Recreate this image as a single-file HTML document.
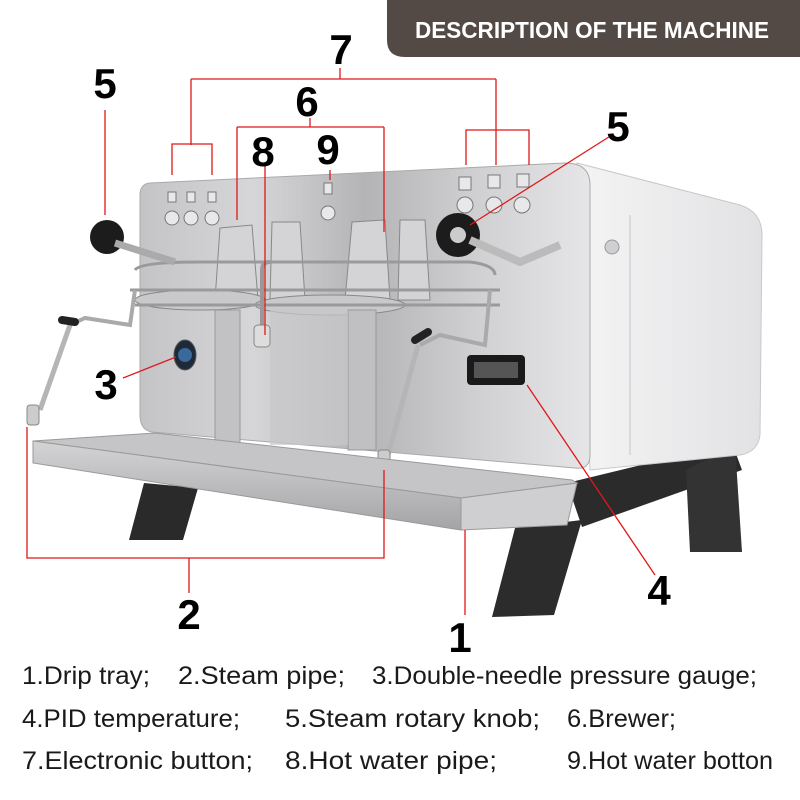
<!DOCTYPE html>
<html><head><meta charset="utf-8"><style>
html,body{margin:0;padding:0;background:#fff}
svg{display:block}
</style></head><body>
<svg width="800" height="800" viewBox="0 0 800 800" xmlns="http://www.w3.org/2000/svg" font-family="Liberation Sans, sans-serif">
<defs>
<linearGradient id="pan" x1="0" y1="0" x2="1" y2="0">
<stop offset="0" stop-color="#c4c4c6"/><stop offset="0.25" stop-color="#d6d6d8"/><stop offset="0.5" stop-color="#b4b4b7"/><stop offset="0.75" stop-color="#d0d0d2"/><stop offset="1" stop-color="#e6e6e8"/></linearGradient>
<linearGradient id="side" x1="0" y1="0" x2="1" y2="0">
<stop offset="0" stop-color="#f4f4f5"/><stop offset="1" stop-color="#e2e2e4"/></linearGradient>
<linearGradient id="tray" x1="0" y1="0" x2="0" y2="1">
<stop offset="0" stop-color="#d4d4d6"/><stop offset="1" stop-color="#a4a4a7"/></linearGradient>
</defs>
<!-- header -->
<path d="M387 0 H800 V57 H405 Q387 57 387 40 Z" fill="#544a45"/>
<text x="592" y="38" font-size="23" font-weight="bold" fill="#fff" text-anchor="middle" textLength="354" lengthAdjust="spacingAndGlyphs">DESCRIPTION OF THE MACHINE</text>

<!-- legs -->
<polygon points="567,483 732,443 742,470 686,490 582,527" fill="#2b2b2b"/>
<polygon points="686,470 735,445 742,552 690,552" fill="#333"/>
<polygon points="144,483 198,488 183,540 129,540" fill="#2a2a2a"/>
<polygon points="515,528 582,520 554,615 492,617" fill="#2c2c2c"/>

<!-- side body -->
<path d="M577 163 L740 205 Q762 212 762 235 L760 435 Q758 452 740 455 L590 470 Z" fill="url(#side)" stroke="#c8c8ca"/>
<line x1="630" y1="215" x2="630" y2="455" stroke="#c4c4c6"/>
<circle cx="612" cy="247" r="7" fill="#cfcfd1" stroke="#999"/>
<!-- front panel -->
<path d="M150 183 L565 163 Q590 163 590 185 L590 455 Q590 470 575 468 L152 432 Q140 430 140 415 L140 195 Q140 184 150 183 Z" fill="url(#pan)" stroke="#aaa"/>
<!-- buttons -->
<g fill="#e8e8ea" stroke="#777">
<circle cx="172" cy="218" r="7"/><circle cx="191" cy="218" r="7"/><circle cx="212" cy="218" r="7"/>
<circle cx="328" cy="213" r="7"/>
<circle cx="465" cy="205" r="8"/><circle cx="494" cy="205" r="8"/><circle cx="522" cy="205" r="8"/>
<rect x="168" y="192" width="8" height="10"/><rect x="187" y="192" width="8" height="10"/><rect x="208" y="192" width="8" height="10"/>
<rect x="324" y="183" width="8" height="11"/>
<rect x="459" y="177" width="12" height="13"/><rect x="488" y="175" width="12" height="13"/><rect x="517" y="174" width="12" height="13"/>
</g>
<!-- group heads / brewers -->
<g fill="#d4d4d6" stroke="#888">
<path d="M220 228 L252 225 L258 300 L215 300 Z"/>
<path d="M272 222 L300 222 L305 300 L270 300 Z"/>
<path d="M352 222 L385 220 L390 300 L345 300 Z"/>
<path d="M400 220 L425 220 L430 300 L398 300 Z"/>
<ellipse cx="200" cy="300" rx="65" ry="10" fill="#c9c9cb"/>
<ellipse cx="330" cy="305" rx="75" ry="10" fill="#c9c9cb"/>
</g>
<g fill="none" stroke="#9a9a9d" stroke-width="3">
<path d="M135 270 Q140 262 200 262 L470 262 Q495 265 495 275"/>
<path d="M130 290 L500 290"/>
<path d="M135 305 L500 305"/>
</g>
<!-- cup plates -->
<rect x="215" y="310" width="25" height="140" fill="#c2c2c4" stroke="#999"/>
<rect x="348" y="310" width="28" height="140" fill="#c0c0c2" stroke="#999"/>
<rect x="270" y="310" width="78" height="135" fill="#c8c8ca" opacity="0.7"/>
<!-- hot water pipe -->
<path d="M262 270 Q262 262 270 262 M262 270 L262 330" stroke="#999" stroke-width="4" fill="none"/>
<rect x="254" y="325" width="16" height="22" rx="4" fill="#ddd" stroke="#888"/>
<!-- knobs -->
<circle cx="107" cy="237" r="17" fill="#1c1c1c"/>
<circle cx="458" cy="235" r="22" fill="#1c1c1c"/>
<circle cx="458" cy="235" r="8" fill="#ccc"/>
<path d="M115 243 L175 262" stroke="#aaa" stroke-width="7"/>
<path d="M470 240 L520 262 L560 245" stroke="#bbb" stroke-width="8" fill="none"/>
<!-- steam pipes -->
<path d="M135 290 L130 325 L85 318 L70 325" stroke="#aaa" stroke-width="4" fill="none"/>
<path d="M70 325 L40 410" stroke="#b5b5b7" stroke-width="5"/>
<path d="M62 320 L75 322" stroke="#222" stroke-width="8" stroke-linecap="round"/>
<rect x="27" y="405" width="12" height="20" rx="3" fill="#ccc" stroke="#888"/>
<path d="M490 290 L485 345 L440 335 L420 345" stroke="#aaa" stroke-width="4" fill="none"/>
<path d="M418 345 L388 455" stroke="#b5b5b7" stroke-width="5"/>
<path d="M415 340 L428 332" stroke="#222" stroke-width="8" stroke-linecap="round"/>
<rect x="378" y="450" width="12" height="22" rx="3" fill="#ccc" stroke="#888"/>
<!-- gauge -->
<ellipse cx="185" cy="355" rx="11" ry="15" fill="#1e2a3a" stroke="#555"/>
<circle cx="185" cy="355" r="7" fill="#3a6a9a"/>
<!-- PID -->
<rect x="467" y="355" width="58" height="30" rx="4" fill="#1a1a1a"/>
<rect x="474" y="362" width="44" height="16" fill="#555"/>
<!-- drip tray -->
<polygon points="33,441 155,433 572,480 577,483 461,498" fill="#c5c5c8" stroke="#999"/>
<polygon points="33,441 461,498 461,530 33,463" fill="url(#tray)" stroke="#999"/>
<polygon points="461,498 577,483 567,525 461,530" fill="#cfcfd1" stroke="#999"/>

<!-- red callouts -->
<g stroke="#e01818" stroke-width="1.3" fill="none">
<path d="M340 68 V79 M191 79 H496 M191 79 V145 M496 79 V165"/>
<path d="M172 175 V144 H212 V175"/>
<path d="M466 165 V130 H529 V165"/>
<path d="M310 118 V127 M237 127 H384 M237 127 V220 M384 127 V232"/>
<path d="M265 165 V335"/>
<path d="M330 170 V180"/>
<path d="M105 110 V215"/>
<path d="M612 135 L470 225"/>
<path d="M123 378 L176 357"/>
<path d="M655 575 L527 385"/>
<path d="M27 427 V558 H384 V470 M189 558 V593"/>
<path d="M465 530 V615"/>
</g>
<g font-size="42" font-weight="bold" fill="#000" text-anchor="middle" font-family="Liberation Sans Narrow, Liberation Sans, sans-serif">
<text x="341" y="64">7</text>
<text x="105" y="98">5</text>
<text x="307" y="116">6</text>
<text x="263" y="166">8</text>
<text x="328" y="164">9</text>
<text x="618" y="141">5</text>
<text x="106" y="399">3</text>
<text x="659" y="605">4</text>
<text x="189" y="629">2</text>
<text x="460" y="652">1</text>
</g>
<g font-size="25" fill="#1a1a1a" font-family="Liberation Sans Narrow, Liberation Sans, sans-serif">
<text x="22" y="684" textLength="128" lengthAdjust="spacingAndGlyphs">1.Drip tray;</text>
<text x="178" y="684" textLength="167" lengthAdjust="spacingAndGlyphs">2.Steam  pipe;</text>
<text x="372" y="684" textLength="385" lengthAdjust="spacingAndGlyphs">3.Double-needle pressure gauge;</text>
<text x="22" y="727" textLength="218" lengthAdjust="spacingAndGlyphs">4.PID temperature;</text>
<text x="285" y="727" textLength="255" lengthAdjust="spacingAndGlyphs">5.Steam  rotary  knob;</text>
<text x="567" y="727" textLength="109" lengthAdjust="spacingAndGlyphs">6.Brewer;</text>
<text x="22" y="769" textLength="231" lengthAdjust="spacingAndGlyphs">7.Electronic  button;</text>
<text x="285" y="769" textLength="212" lengthAdjust="spacingAndGlyphs">8.Hot  water  pipe;</text>
<text x="567" y="769" textLength="206" lengthAdjust="spacingAndGlyphs">9.Hot water botton</text>
</g>
</svg>
</body></html>
